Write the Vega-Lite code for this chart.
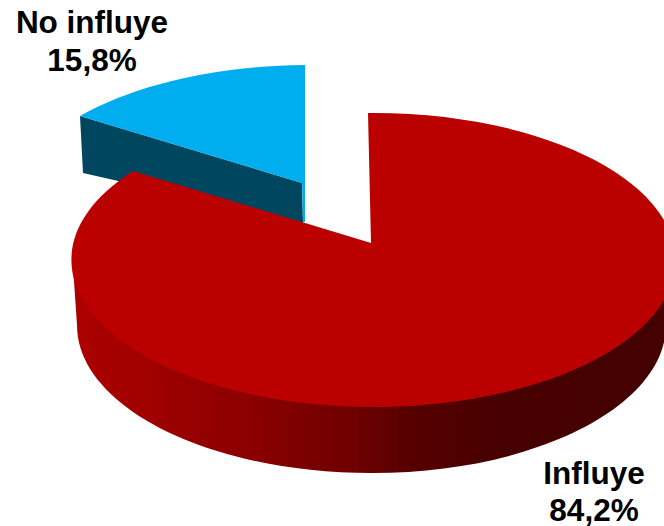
{
  "$schema": "https://vega.github.io/schema/vega-lite/v6.json",
  "width": 664,
  "height": 526,
  "padding": 0,
  "autosize": "none",
  "background": "white",
  "config": {"view": {"stroke": null}},
  "data": {"values": [
    {"categoria": "Influye", "porcentaje": 84.2, "etiqueta": "Influye\n84,2%"},
    {"categoria": "No influye", "porcentaje": 15.8, "etiqueta": "No influye\n15,8%"}
  ]},
  "layer": [
    {
      "transform": [{"filter": "datum.categoria === 'No influye'"}],
      "mark": {"type": "point", "filled": true, "opacity": 1, "strokeWidth": 0, "size": 4, "fill": "#00465f",
        "shape": "M-252 -147 L-249 -90 L-29 -40 L-30 -80 Z"},
      "encoding": {"detail": {"field": "categoria"}}
    },
    {
      "transform": [{"filter": "datum.categoria === 'No influye'"}],
      "mark": {"type": "point", "filled": true, "opacity": 1, "strokeWidth": 0, "size": 4, "fill": "#00aeef",
        "shape": "M-27 -198 A302 147 0 0 0 -252 -147 L-30 -80 L-29 -41 L-27 -41 Z"},
      "encoding": {"detail": {"field": "categoria"}}
    },
    {
      "transform": [{"filter": "datum.categoria === 'Influye'"}],
      "mark": {"type": "point", "filled": true, "opacity": 1, "strokeWidth": 0, "size": 4,
        "fill": {"gradient": "linear", "x1": 0, "y1": 0, "x2": 1, "y2": 0, "stops": [
          {"offset": 0, "color": "#ac0000"},
          {"offset": 0.12, "color": "#a00000"},
          {"offset": 0.3, "color": "#8a0000"},
          {"offset": 0.475, "color": "#6c0000"},
          {"offset": 0.56, "color": "#560000"},
          {"offset": 0.72, "color": "#470000"},
          {"offset": 1, "color": "#440000"}
        ]},
        "shape": "M-259.5 -4 L-255 62 A294.5 148 0 0 0 334 62 L345 -3 Z"},
      "encoding": {"detail": {"field": "categoria"}}
    },
    {
      "transform": [{"filter": "datum.categoria === 'Influye'"}],
      "mark": {"type": "point", "filled": true, "opacity": 1, "strokeWidth": 0, "size": 4, "fill": "#bb0000",
        "shape": "M36 -150 A302 147 0 1 1 -199 -92 L39 -20 Z"},
      "encoding": {"detail": {"field": "categoria"}}
    },
    {
      "transform": [{"filter": "datum.categoria === 'No influye'"}],
      "mark": {"type": "text", "font": "Liberation Sans", "fontWeight": "bold", "fontSize": 31.5, "color": "black",
        "align": "center", "baseline": "alphabetic", "lineBreak": "\n", "lineHeight": 38, "dx": -240, "dy": -230},
      "encoding": {"text": {"field": "etiqueta"}}
    },
    {
      "transform": [{"filter": "datum.categoria === 'Influye'"}],
      "mark": {"type": "text", "font": "Liberation Sans", "fontWeight": "bold", "fontSize": 31.5, "color": "black",
        "align": "center", "baseline": "alphabetic", "lineBreak": "\n", "lineHeight": 37, "dx": 262, "dy": 221},
      "encoding": {"text": {"field": "etiqueta"}}
    }
  ]
}
